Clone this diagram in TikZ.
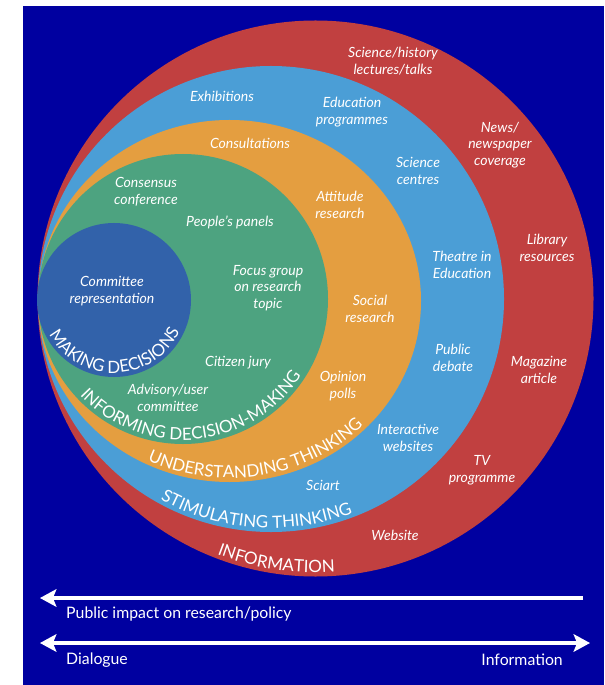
\documentclass[tikz,border=0pt]{standalone}
\usepackage{fontspec}
\setmainfont{Lato}
\usetikzlibrary{decorations.text,arrows.meta}

\definecolor{bgblue}{RGB}{0,0,160}
\definecolor{ringred}{RGB}{193,64,64}
\definecolor{ringsky}{RGB}{75,158,214}
\definecolor{ringorange}{RGB}{228,158,64}
\definecolor{ringgreen}{RGB}{77,163,128}
\definecolor{ringinner}{RGB}{50,98,170}
\newcommand\ringfont{\fontsize{14.5}{15}\selectfont}

\tikzset{
  item/.style={text=white, font=\itshape\fontsize{12}{14.3}\selectfont, align=center, inner sep=0pt},
  ringtext/.style={decorate, decoration={text along path, text align=center,
      text color=white, text={|\ringfont|#1}}},
  bigarrow/.style={white, line width=2.6pt},
  scalelabel/.style={text=white, font=\fontsize{13.5}{15}\selectfont, inner sep=0pt},
}

\begin{document}
\begin{tikzpicture}[x=0.03cm, y=-0.03cm, >={Stealth[length=14pt,width=15pt,inset=3pt]}]
\useasboundingbox (0,0) rectangle (604,685);
\fill[white] (0,0) rectangle (604,685);
\fill[bgblue] (23,6) rectangle (604,685);
% RINGS
\fill[ringred] (315.5,298.5) circle[radius=278];
\fill[ringsky] (271,299) circle[radius=233];
\fill[ringorange] (229.5,301) ellipse[x radius=191.5, y radius=181];
\fill[ringgreen] (183,299) circle[radius=145];
\fill[ringinner] (114,300) circle[radius=77];
% RING NAMES
\path[ringtext={MAKING DECISIONS}, shift={(114,300)}] (168:73) arc[start angle=168, end angle=10, radius=73];
\path[ringtext={INFORMING DECISION-MAKING}, shift={(183,299)}] (152:141) arc[start angle=152, end angle=18, radius=141];
\path[ringtext={UNDERSTANDING THINKING}, shift={(229.5,301)}] (140:187.5 and 177) arc[start angle=140, end angle=20, x radius=187.5, y radius=177];
\path[ringtext={STIMULATING THINKING}, shift={(271,299)}] (150:229) arc[start angle=150, end angle=38, radius=229];
\path[ringtext={INFORMATION}, shift={(315.5,298.5)}] (140:274) arc[start angle=140, end angle=57, radius=274];
% INFORMATION
\node[item] (talks) at (393,61) {Science/history\\lectures/talks};
\node[item] (news) at (500,145) {News/\\newspaper\\coverage};
\node[item] (library) at (547,248) {Library\\resources};
\node[item] (magazine) at (539,370) {Magazine\\article};
\node[item] (tv) at (482,470) {TV\\programme};
\node[item] (website) at (395,535) {Website};
% STIMULATING THINKING
\node[item] (exhib) at (222,96) {Exhibitions};
\node[item] (eduprog) at (352,112) {Education\\programmes};
\node[item] (scicentres) at (418,171) {Science\\centres};
\node[item] (theatre) at (462,265) {Theatre in\\Education};
\node[item] (debate) at (453,358) {Public\\debate};
\node[item] (interactive) at (408,438) {Interactive\\websites};
\node[item] (sciart) at (323,485) {Sciart};
% UNDERSTANDING THINKING
\node[item] (consult) at (250,143) {Consultations};
\node[item] (attitude) at (340,205) {Attitude\\research};
\node[item] (social) at (370,309) {Social\\research};
\node[item] (opinion) at (343,386) {Opinion\\polls};
% INFORMING DECISION-MAKING
\node[item] (consensus) at (146,192) {Consensus\\conference};
\node[item] (panels) at (230,222) {People’s panels};
\node[item] (focus) at (268,288) {Focus group\\on research\\topic};
\node[item] (jury) at (238,363) {Citizen jury};
\node[item] (advisory) at (168,398) {Advisory/user\\committee};
% MAKING DECISIONS
\node[item] (committee) at (112,291) {Committee\\representation};
% ARROWS
\coordinate (impactR) at (583,598);
\coordinate (impactL) at (40,598);
\coordinate (scaleL) at (40,643);
\coordinate (scaleR) at (590,643);
\draw[bigarrow, ->] (impactR) -- (impactL);
\draw[bigarrow, <->] (scaleL) -- (scaleR);
\node[scalelabel, anchor=west] (impact) at (66,614) {Public impact on research/policy};
\node[scalelabel, anchor=west] (dialogue) at (66,660) {Dialogue};
\node[scalelabel, anchor=east] (info) at (563,660) {Information};
\end{tikzpicture}
\end{document}
